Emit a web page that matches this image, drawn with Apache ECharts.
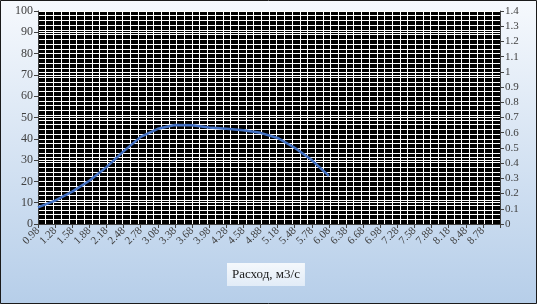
<!DOCTYPE html>
<html>
<head>
<meta charset="utf-8">
<script src="https://cdn.jsdelivr.net/npm/echarts@6/dist/echarts.min.js"></script>
<style>html,body{margin:0;padding:0;}#c{width:537px;height:304px;}</style>
</head>
<body>
<div id="c"></div>
<script>
// Category labels (flow, m3/s); last slot is an empty end tick
const categories = ['0.98','1.28','1.58','1.88','2.18','2.48','2.78','3.08','3.38','3.68','3.98','4.28','4.58','4.88','5.18','5.48','5.78','6.08','6.38','6.68','6.98','7.28','7.58','7.88','8.18','8.48','8.78',''];
// Series values (left axis scale)
const values = [7.8, 11.0, 15.2, 20.3, 26.7, 34.1, 40.9, 44.7, 46.5, 46.4, 45.3, 44.7, 44.0, 42.8, 40.4, 35.8, 30.0, 22.6];
const leftTicks = {min: 0, max: 100, interval: 10};
const rightTicks = {min: 0, max: 1.4, interval: 0.1};
const xTitle = 'Расход, м3/с';

const serif = '"Liberation Serif", "DejaVu Serif", serif';
const chart = echarts.init(document.getElementById('c'), null, {renderer: 'canvas'});
chart.setOption({
  animation: false,
  backgroundColor: {
    type: 'linear', x: 0, y: 0, x2: 0, y2: 1,
    colorStops: [{offset: 0, color: '#f6f9fd'}, {offset: 1, color: '#b6cee9'}]
  },
  title: {
    text: xTitle, left: 227, top: 263,
    padding: [5, 5, 5, 5],
    backgroundColor: {
      type: 'linear', x: 0, y: 0, x2: 0, y2: 1,
      colorStops: [{offset: 0, color: '#f4f8fc'}, {offset: 1, color: '#e2ecf7'}]
    },
    textStyle: {fontFamily: serif, fontSize: 13, fontWeight: 'normal', color: '#1a1a1a'}
  },
  graphic: [{
    type: 'rect', shape: {x: 0.5, y: 0.5, width: 536, height: 303},
    style: {fill: 'none', stroke: '#1a1a1a', lineWidth: 1}, silent: true, z: 100
  }],
  grid: {left: 38, right: 37, top: 11, bottom: 80, show: true, backgroundColor: '#000000', borderWidth: 0},
  xAxis: [{
    type: 'category', data: categories, boundaryGap: false,
    axisLine: {show: true, lineStyle: {color: '#404040', width: 1}},
    axisTick: {show: true, length: 4, lineStyle: {color: '#404040'}},
    axisLabel: {rotate: 45, interval: 0, fontFamily: serif, fontSize: 11, color: '#404040', margin: 5},
    splitLine: {show: false}
  }, {
    type: 'value', position: 'top', min: 0, max: 60, interval: 1,
    axisLine: {show: false}, axisTick: {show: false}, axisLabel: {show: false},
    splitLine: {show: true, lineStyle: {color: '#ffffff', width: 1}}
  }],
  yAxis: [{
    type: 'value', position: 'left', min: leftTicks.min, max: leftTicks.max, interval: leftTicks.interval,
    axisLine: {show: true, lineStyle: {color: '#404040'}},
    axisTick: {show: true, length: 4, lineStyle: {color: '#404040'}},
    axisLabel: {fontFamily: serif, fontSize: 12, color: '#404040', margin: 5},
    splitLine: {show: true, lineStyle: {color: '#ffffff', width: 1}}
  }, {
    type: 'value', position: 'right', min: rightTicks.min, max: rightTicks.max, interval: rightTicks.interval,
    axisLine: {show: true, lineStyle: {color: '#404040'}},
    axisTick: {show: true, length: 4, lineStyle: {color: '#404040'}},
    axisLabel: {fontFamily: serif, fontSize: 11, color: '#404040', margin: 5},
    splitLine: {show: false}
  }, {
    type: 'value', position: 'left', min: 0, max: 45, interval: 1,
    axisLine: {show: false}, axisTick: {show: false}, axisLabel: {show: false},
    splitLine: {show: true, lineStyle: {color: '#ffffff', width: 1}}
  }],
  series: [{
    type: 'line', data: values, xAxisIndex: 0, yAxisIndex: 0,
    showSymbol: false, symbol: 'none',
    lineStyle: {color: '#4472C4', width: 2.5},
    z: 10
  }]
});
</script>
</body>
</html>
